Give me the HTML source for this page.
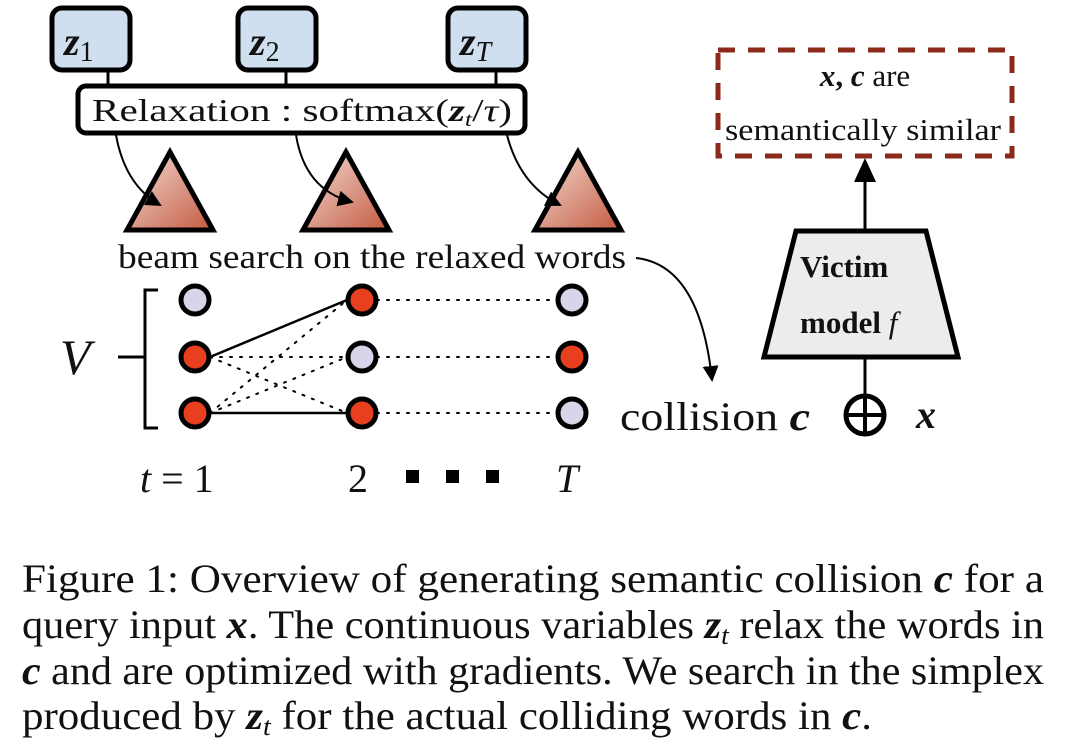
<!DOCTYPE html>
<html><head><meta charset="utf-8"><style>
html,body{margin:0;padding:0;background:#fff;}
svg{display:block;}
text{font-family:"Liberation Serif",serif;fill:#111;}
</style></head><body>
<svg width="1073" height="752" viewBox="0 0 1073 752" xmlns="http://www.w3.org/2000/svg">
<defs>
<linearGradient id="tg" x1="0" y1="0" x2="1" y2="1">
<stop offset="0" stop-color="#f4ddd6"/><stop offset="1" stop-color="#c45a40"/>
</linearGradient>
<marker id="ah2" markerWidth="16" markerHeight="16" refX="14" refY="8" orient="auto" markerUnits="userSpaceOnUse">
<path d="M0,0 L16,8 L0,16 Z" fill="#000"/></marker>
</defs>
<g stroke="#000" stroke-width="5" fill="#cfdff0">
<rect x="52" y="8" width="78" height="62" rx="10"/>
<rect x="238" y="8" width="78" height="62" rx="10"/>
<rect x="448" y="8" width="78" height="62" rx="10"/>
</g>
<g font-size="40" font-style="italic" font-weight="bold">
<text x="64" y="55">z<tspan font-size="28" font-style="normal" font-weight="normal" dy="6">1</tspan></text>
<text x="250" y="55">z<tspan font-size="28" font-style="normal" font-weight="normal" dy="6">2</tspan></text>
<text x="460" y="55">z<tspan font-size="28" font-style="italic" font-weight="normal" dy="6">T</tspan></text>
</g>
<g stroke="#000" stroke-width="3">
<line x1="108" y1="70" x2="108" y2="86"/><line x1="286" y1="70" x2="286" y2="86"/><line x1="496" y1="70" x2="496" y2="86"/>
</g>
<rect x="78" y="86" width="447" height="47" rx="8" fill="#fff" stroke="#000" stroke-width="5"/>
<text x="92" y="121" font-size="32" textLength="420" lengthAdjust="spacingAndGlyphs">Relaxation : softmax(<tspan font-style="italic" font-weight="bold">z</tspan><tspan font-style="italic" font-size="20" dy="5">t</tspan><tspan dy="-5">/</tspan><tspan font-style="italic">τ</tspan>)</text>
<g stroke="#000" stroke-width="5" fill="url(#tg)">
<polygon points="170,152 127,230 213,230"/>
<polygon points="346,152 303,230 389,230"/>
<polygon points="578,152 535,230 621,230"/>
</g>
<g stroke="#000" stroke-width="2" fill="none">
<path d="M116,135 Q125,185 160,205" marker-end="url(#ah2)"/>
<path d="M296,135 Q305,190 352,202" marker-end="url(#ah2)"/>
<path d="M507,135 Q520,185 560,205" marker-end="url(#ah2)"/>
</g>
<text x="118" y="268" font-size="34" textLength="508" lengthAdjust="spacingAndGlyphs">beam search on the relaxed words</text>
<path d="M636,258 Q700,265 712,380" stroke="#000" stroke-width="2" fill="none" marker-end="url(#ah2)"/>
<path d="M158,290 L145,290 L145,428 L158,428" stroke="#000" stroke-width="3" fill="none"/>
<line x1="118" y1="357" x2="145" y2="357" stroke="#000" stroke-width="3"/>
<text x="60" y="374" font-size="50" font-style="italic">V</text>
<g stroke="#000" stroke-width="2" stroke-dasharray="2,8" stroke-linecap="round">
<line x1="210" y1="357" x2="347" y2="357"/>
<line x1="210" y1="357" x2="347" y2="413"/>
<line x1="210" y1="413" x2="347" y2="300"/>
<line x1="210" y1="413" x2="347" y2="357"/>
<line x1="377" y1="300" x2="557" y2="300"/>
<line x1="377" y1="357" x2="557" y2="357"/>
<line x1="377" y1="413" x2="557" y2="413"/>
</g>
<g stroke="#000" stroke-width="2.5">
<line x1="210" y1="357" x2="347" y2="300"/>
<line x1="210" y1="413" x2="347" y2="413"/>
</g>
<g stroke="#000" stroke-width="5">
<circle cx="195" cy="300" r="14" fill="#d8d5ea"/>
<circle cx="195" cy="357" r="14" fill="#e8401f"/>
<circle cx="195" cy="413" r="14" fill="#e8401f"/>
<circle cx="362" cy="300" r="14" fill="#e8401f"/>
<circle cx="362" cy="357" r="14" fill="#d8d5ea"/>
<circle cx="362" cy="413" r="14" fill="#e8401f"/>
<circle cx="572" cy="300" r="14" fill="#d8d5ea"/>
<circle cx="572" cy="357" r="14" fill="#e8401f"/>
<circle cx="572" cy="413" r="14" fill="#d8d5ea"/>
</g>
<text x="140" y="492" font-size="40"><tspan font-style="italic">t</tspan> = 1</text>
<text x="348" y="492" font-size="40">2</text>
<g fill="#000"><rect x="406" y="470" width="13" height="13"/><rect x="446" y="470" width="13" height="13"/><rect x="486" y="470" width="13" height="13"/></g>
<text x="556" y="492" font-size="40" font-style="italic">T</text>
<text x="620" y="430" font-size="40" textLength="190" lengthAdjust="spacingAndGlyphs">collision <tspan font-style="italic" font-weight="bold">c</tspan></text>
<circle cx="865" cy="415" r="19" fill="none" stroke="#000" stroke-width="5"/>
<line x1="846" y1="415" x2="884" y2="415" stroke="#000" stroke-width="4"/>
<line x1="865" y1="396" x2="865" y2="434" stroke="#000" stroke-width="4"/>
<text x="916" y="428" font-size="40" font-style="italic" font-weight="bold">x</text>
<line x1="865" y1="358" x2="865" y2="396" stroke="#000" stroke-width="3"/>
<polygon points="796,231 926,231 958,357 764,357" fill="#ececec" stroke="#000" stroke-width="5"/>
<text x="800" y="277" font-size="31" font-weight="bold">Victim</text>
<text x="800" y="333" font-size="31"><tspan font-weight="bold">model</tspan> <tspan font-style="italic">f</tspan></text>
<line x1="865" y1="231" x2="865" y2="170" stroke="#000" stroke-width="3"/>
<polygon points="865,158 854,182 876,182" fill="#000"/>
<rect x="718" y="50" width="294" height="106" fill="none" stroke="#8b2a1a" stroke-width="5" stroke-dasharray="17,13"/>
<text x="865" y="86" font-size="31" text-anchor="middle"><tspan font-style="italic" font-weight="bold">x</tspan><tspan font-weight="bold">, </tspan><tspan font-style="italic" font-weight="bold">c</tspan> are</text>
<text x="725" y="140" font-size="31" textLength="276" lengthAdjust="spacingAndGlyphs">semantically similar</text>
<g font-size="40">
<text x="22" y="592" textLength="1022" lengthAdjust="spacingAndGlyphs">Figure 1: Overview of generating semantic collision <tspan font-style="italic" font-weight="bold">c</tspan> for a</text>
<text x="22" y="638" textLength="1022" lengthAdjust="spacingAndGlyphs">query input <tspan font-style="italic" font-weight="bold">x</tspan>. The continuous variables <tspan font-style="italic" font-weight="bold">z</tspan><tspan font-style="italic" font-size="26" dy="6">t</tspan><tspan dy="-6"> relax the words in</tspan></text>
<text x="22" y="684" textLength="1022" lengthAdjust="spacingAndGlyphs"><tspan font-style="italic" font-weight="bold">c</tspan> and are optimized with gradients. We search in the simplex</text>
<text x="22" y="729" textLength="850" lengthAdjust="spacingAndGlyphs">produced by <tspan font-style="italic" font-weight="bold">z</tspan><tspan font-style="italic" font-size="26" dy="6">t</tspan><tspan dy="-6"> for the actual colliding words in </tspan><tspan font-style="italic" font-weight="bold">c</tspan>.</text>
</g>
</svg>
</body></html>
